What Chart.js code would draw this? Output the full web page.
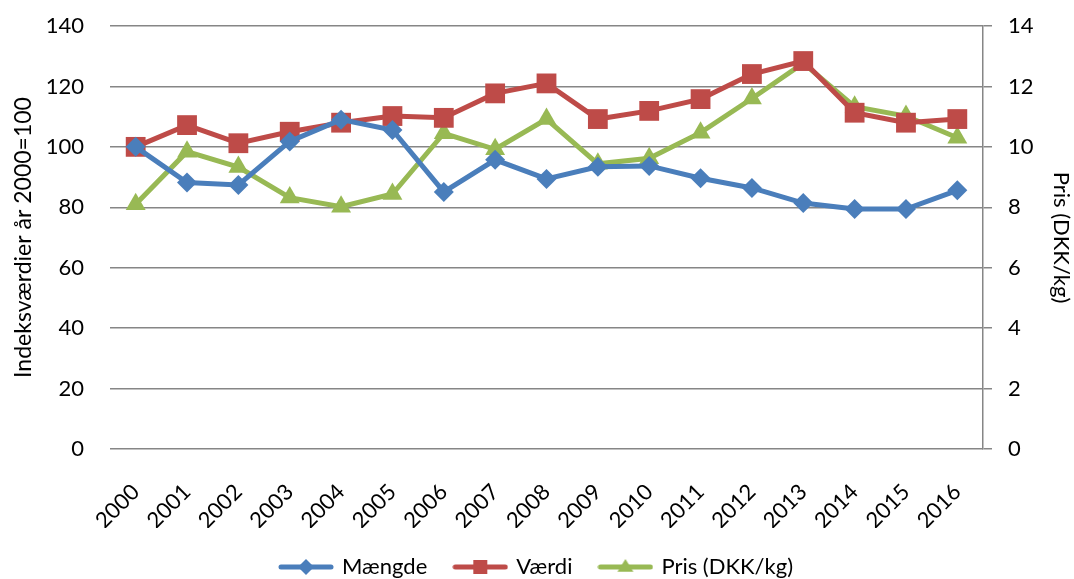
<!DOCTYPE html>
<html>
<head>
<meta charset="utf-8">
<script src="https://cdn.jsdelivr.net/npm/chart.js@4"></script>
<style>
html,body{margin:0;padding:0;background:#fff;}
#wrap{width:1074px;height:579px;position:relative;}
</style>
</head>
<body>
<div id="wrap"><canvas id="c" width="1074" height="579"></canvas></div>
<script>
const years = ['2000','2001','2002','2003','2004','2005','2006','2007','2008','2009','2010','2011','2012','2013','2014','2015','2016'];
const maengde = [100, 88.2, 87.4, 101.8, 109, 105.6, 85.1, 95.7, 89.4, 93.4, 93.7, 89.6, 86.4, 81.4, 79.4, 79.4, 85.6];
const vaerdi = [100, 107.2, 101.2, 105, 108, 110.2, 109.6, 117.7, 121, 109.2, 111.9, 115.8, 124.1, 128.4, 111.3, 108, 109.2];
const pris = [8.1, 9.84, 9.33, 8.32, 8.02, 8.44, 10.45, 9.92, 10.92, 9.44, 9.62, 10.47, 11.6, 12.77, 11.33, 11.02, 10.3];
const leftTicks = [0,20,40,60,80,100,120,140];
const rightTicks = [0,2,4,6,8,10,12,14];

const FONT = 'Lato';
const GRID = '#868686';
const BLUE = '#4a7ebb', RED = '#be4b48', GREEN = '#98b954';

function legendIcon(color, style, r) {
  const cv = document.createElement('canvas');
  cv.width = 56; cv.height = 24;
  const ctx = cv.getContext('2d');
  ctx.strokeStyle = color; ctx.lineWidth = 5; ctx.lineCap = 'round';
  ctx.beginPath(); ctx.moveTo(3, 12); ctx.lineTo(53, 12); ctx.stroke();
  ctx.fillStyle = color;
  ctx.beginPath();
  if (style === 'rectRot') { ctx.moveTo(28, 12 - r); ctx.lineTo(28 + r, 12); ctx.lineTo(28, 12 + r); ctx.lineTo(28 - r, 12); }
  else if (style === 'rect') { ctx.rect(28 - r, 12 - r, 2 * r, 2 * r); }
  else { ctx.moveTo(28, 12 - r * 1.0); ctx.lineTo(28 + r, 12 + r * 0.6); ctx.lineTo(28 - r, 12 + r * 0.6); }
  ctx.closePath(); ctx.fill();
  return cv;
}

const icons = [legendIcon(BLUE, 'rectRot', 8), legendIcon(RED, 'rect', 7), legendIcon(GREEN, 'triangle', 8)];

new Chart(document.getElementById('c'), {
  type: 'line',
  data: {
    labels: years,
    datasets: [
      {label: 'Mængde', data: maengde, yAxisID: 'y', borderColor: BLUE, backgroundColor: BLUE, borderWidth: 5,
       pointStyle: 'rectRot', pointRadius: 10, pointBorderWidth: 0, tension: 0},
      {label: 'Værdi', data: vaerdi, yAxisID: 'y', borderColor: RED, backgroundColor: RED, borderWidth: 5,
       pointStyle: 'rect', pointRadius: 14, pointBorderWidth: 0, tension: 0},
      {label: 'Pris (DKK/kg)', data: pris, yAxisID: 'y1', borderColor: GREEN, backgroundColor: GREEN, borderWidth: 5,
       pointStyle: 'triangle', pointRadius: 11.5, pointBorderWidth: 0, tension: 0}
    ]
  },
  options: {
    responsive: false,
    animation: false,
    devicePixelRatio: 1,
    layout: {padding: {left: 0, right: 0, top: 26, bottom: -9}},
    font: {family: FONT},
    plugins: {
      tooltip: {enabled: false},
      legend: {
        position: 'bottom',
        labels: {
          font: {family: FONT, size: 22},
          color: '#000',
          usePointStyle: true,
          pointStyleWidth: 50,
          padding: 28,
          generateLabels: (chart) => chart.data.datasets.map((ds, i) => ({
            text: ds.label, pointStyle: icons[i], fillStyle: ds.borderColor, strokeStyle: ds.borderColor,
            lineWidth: 0, hidden: false, datasetIndex: i, fontColor: '#000'
          }))
        }
      }
    },
    scales: {
      x: {
        offset: true,
        grid: {display: false},
        border: {display: false},
        ticks: {font: {family: FONT, size: 22}, color: '#000', minRotation: 45, maxRotation: 45, padding: 22, autoSkip: false},
        afterFit: (s) => { s.height = 79; }
      },
      y: {
        position: 'left',
        min: 0, max: 140,
        afterBuildTicks: (s) => { s.ticks = leftTicks.map(v => ({value: v})); },
        grid: {color: GRID, lineWidth: 1.5, drawTicks: true, tickLength: 26, tickColor: 'rgba(0,0,0,0)'},
        border: {display: false},
        ticks: {font: {family: FONT, size: 22, lineHeight: 0.8}, color: '#000', padding: 0},
        title: {display: true, text: 'Indeksværdier år 2000=100', font: {family: FONT, size: 23}, color: '#000', padding: {top: 10, bottom: 0}},
        afterFit: (s) => { s.width = 110; }
      },
      y1: {
        position: 'right',
        min: 0, max: 14,
        afterBuildTicks: (s) => { s.ticks = rightTicks.map(v => ({value: v})); },
        grid: {drawOnChartArea: false, drawTicks: true, tickLength: 9, color: GRID, lineWidth: 1.5},
        border: {display: true, color: GRID, width: 1.5},
        ticks: {font: {family: FONT, size: 22, lineHeight: 0.8}, color: '#000', padding: 16},
        title: {display: true, text: 'Pris (DKK/kg)', font: {family: FONT, size: 22}, color: '#000', padding: {top: 0, bottom: 0}},
        afterFit: (s) => { s.width = 91; }
      }
    }
  }
});
</script>
</body>
</html>
